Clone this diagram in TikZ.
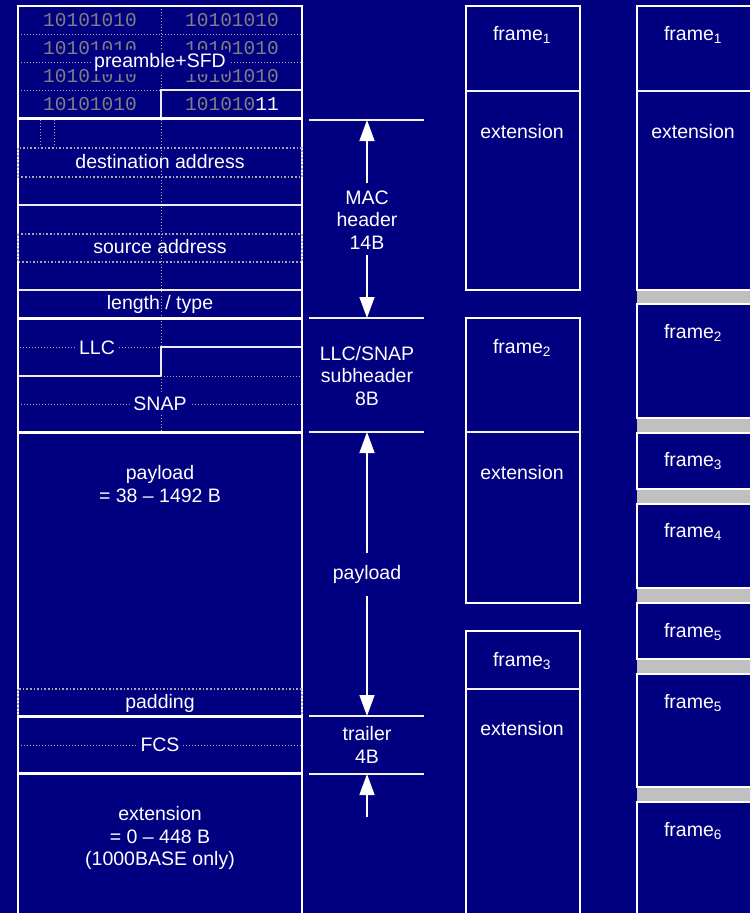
\documentclass[tikz,border=0pt]{standalone}
\usepackage{fontspec}
\setmainfont{Liberation Sans}
\setmonofont{Liberation Mono}
\usetikzlibrary{arrows.meta}
\definecolor{navy}{RGB}{0,0,128}
\definecolor{bandgray}{RGB}{192,192,192}
\definecolor{bitgray}{RGB}{128,128,128}
\definecolor{dotgray}{RGB}{170,170,170}
\begin{document}
\begin{tikzpicture}[x=1pt,y=-1pt,
  every node/.style={font=\fontsize{19.5}{22.5}\selectfont, text=white, inner sep=1pt},
  lbl/.style={align=center},
  patch/.style={fill=navy, inner sep=3pt},
  bits/.style={font=\ttfamily\fontsize{19.5}{22.5}\selectfont, text=bitgray},
  heavy/.style={white, line width=3pt},
  thinl/.style={white!85!gray, line width=1.3pt},
  border/.style={white, line width=2pt},
  dotl/.style={dotgray, dotted, line width=1pt},
  dotbox/.style={dotgray, dotted, line width=1.6pt},
  sepl/.style={white!90!gray, line width=1.5pt},
  dim/.style={white, line width=1.5pt, -{Triangle[length=21pt,width=15pt]}},
  boxb/.style={draw=white, line width=2pt},
  boxr/.style={draw=white, line width=1.5pt},
  band/.style={fill=bandgray},
]
\fill[navy] (0,0) rectangle (750,913);
\useasboundingbox (0,0) rectangle (750,913);
\clip (0,0) rectangle (750,913);

% ---------- left column: frame layout ----------
% preamble rows
\draw[dotl] (18,34) -- (302,34);
\draw[dotl] (18,62) -- (302,62);
\draw[dotl] (18,90) -- (161,90);
\draw[dotl] (161,6) -- (161,90);
\draw[thinl] (161,117) -- (161,90) -- (302,90);
\foreach \yy in {20,48,76,104} {
  \node[bits] (bl\yy) at (90,\yy) {10101010};
}
\foreach \yy in {20,48,76} {
  \node[bits] (br\yy) at (232,\yy) {10101010};
}
\node[bits] (br104) at (232,104) {101010\textcolor{white}{11}};
\node[patch] (pre) at (160,62) {preamble+SFD};

% MAC header
\draw[dotl] (40,120) -- (40,147);
\draw[dotl] (54,120) -- (54,147);
\draw[dotl] (161,120) -- (161,347);
\draw[dotl] (161,376) -- (161,432);
\draw[thinl] (18,205) -- (302,205);
\draw[thinl] (18,290) -- (302,290);
\node (dst) at (160,162) {destination address};
\node (src) at (160,247) {source address};
\node[patch, inner sep=1pt] (len) at (160,304) {length / type};
\draw[dotl] (161,296) -- (161,312);

% LLC / SNAP
\draw[dotl] (20,347) -- (161,347);
\draw[thinl] (18,376) -- (161,376) -- (161,347) -- (302,347);
\draw[dotl] (161,376) -- (302,376);
\draw[dotl] (18,404) -- (302,404);
\node[patch] (llc) at (97,348) {LLC};
\node[patch] (snap) at (160,404) {SNAP};

% payload, padding, FCS, extension
\node[lbl] (pay) at (160,484) {payload\\= 38 -- 1492 B};
\node (pad) at (160,703) {padding};
\draw[dotl] (18,745) -- (302,745);
\node[patch] (fcs) at (160,745) {FCS};
\node[lbl] (ext) at (160,838) {extension\\= 0 -- 448 B\\(1000BASE only)};

% outer border and dotted boxes
\draw[border] (18,5) -- (18,920);
\draw[border] (302,5) -- (302,920);
\draw[border] (17,6) -- (303,6);
\draw[dotbox] (18,148) rectangle (302,177);
\draw[dotbox] (18,234) rectangle (302,262);
\draw[dotbox] (18,689) rectangle (302,716);
\foreach \yy in {118,318,432,716,773} {
  \draw[heavy] (17,\yy) -- (303,\yy);
}

% ---------- dimension annotations ----------
\foreach \yy in {120,318,432,716,774} {
  \draw[sepl] (309,\yy) -- (424,\yy);
}
\coordinate (mTop) at (367,120);
\coordinate (mBot) at (367,318);
\coordinate (lBot) at (367,432);
\coordinate (pBot) at (367,716);
\coordinate (tBot) at (367,774);
\coordinate (mA) at (367,183);
\coordinate (mB) at (367,255);
\coordinate (pA) at (367,553);
\coordinate (pB) at (367,596);
\coordinate (tA) at (367,817);
\node[lbl] (mac) at (367,220) {MAC\\header\\14B};
\node[lbl] (llcsnap) at (367,376) {LLC/SNAP\\subheader\\8B};
\node (payl) at (367,574) {payload};
\node[lbl] (trl) at (367,745) {trailer\\4B};
\draw[dim] (mA) -- (mTop);
\draw[dim] (mB) -- (mBot);
\draw[dim] (pA) -- (lBot);
\draw[dim] (pB) -- (pBot);
\draw[dim] (tA) -- (tBot);

% ---------- middle column ----------
\draw[boxb] (466,6) rectangle (580,290);
\draw[sepl] (466,91) -- (580,91);
\draw[boxb] (466,318) rectangle (580,603);
\draw[sepl] (466,432) -- (580,432);
\draw[boxb] (466,631) rectangle (580,930);
\draw[sepl] (466,689) -- (580,689);
\node (m1) at (522,35) {frame\textsubscript{1}};
\node (m1e) at (522,132) {extension};
\node (m2) at (522,348) {frame\textsubscript{2}};
\node (m2e) at (522,473) {extension};
\node (m3) at (522,661) {frame\textsubscript{3}};
\node (m3e) at (522,729) {extension};

% ---------- right column ----------
\foreach \ya/\yb in {290/304,418/433,489/504,588/603,659/674,787/802} {
  \fill[band] (637,\ya) rectangle (760,\yb);
}
\draw[boxr] (637,6) rectangle (760,290);
\draw[sepl] (637,91) -- (760,91);
\draw[boxr] (637,304) rectangle (760,418);
\draw[boxr] (637,433) rectangle (760,489);
\draw[boxr] (637,504) rectangle (760,588);
\draw[boxr] (637,603) rectangle (760,659);
\draw[boxr] (637,674) rectangle (760,787);
\draw[boxr] (637,802) rectangle (760,930);
\node (r1) at (693,35) {frame\textsubscript{1}};
\node (r1e) at (693,132) {extension};
\node (r2) at (693,333) {frame\textsubscript{2}};
\node (r3) at (693,461) {frame\textsubscript{3}};
\node (r4) at (693,532) {frame\textsubscript{4}};
\node (r5) at (693,632) {frame\textsubscript{5}};
\node (r5b) at (693,703) {frame\textsubscript{5}};
\node (r6) at (693,831) {frame\textsubscript{6}};
\end{tikzpicture}
\end{document}
